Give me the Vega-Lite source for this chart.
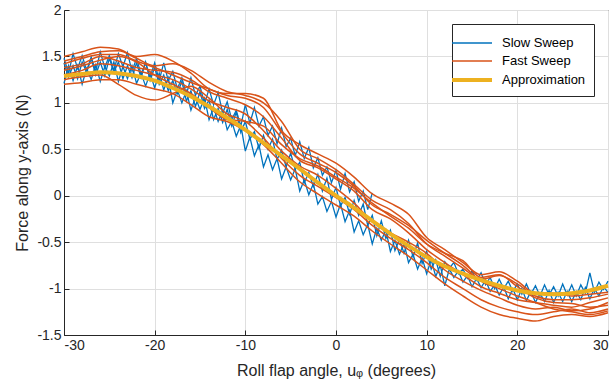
{
"$schema":"https://vega.github.io/schema/vega-lite/v6.json",
"width":544,"height":325,
"autosize":{"type":"none"},
"padding":{"left":64,"top":10,"right":6,"bottom":55},
"background":"white",
"config":{
"view":{"stroke":"#262626","strokeWidth":1},
"axis":{"labelFont":"Liberation Sans","titleFont":"Liberation Sans","labelFontSize":14,"titleFontSize":16,"titleFontWeight":"normal","labelColor":"#262626","titleColor":"#262626","domainColor":"#262626","tickColor":"#262626","gridColor":"#dfdfdf","gridWidth":1,"tickSize":-5,"labelPadding":8,"labelExpr":"replace(format(datum.value,''),'\u2212','-')"},
"legend":{"orient":"top-right","offset":14,"fillColor":"white","strokeColor":"#262626","padding":8,"symbolType":"M-2,0H2","symbolSize":400,"labelFont":"Liberation Sans","labelFontSize":13,"labelColor":"#000000","rowPadding":0,"labelOffset":18}
},
"datasets":{
"approx":[
{"g":"Approximation","x":-30,"y":1.29},{"g":"Approximation","x":-28,"y":1.31},{"g":"Approximation","x":-26,"y":1.33},{"g":"Approximation","x":-24,"y":1.32},{"g":"Approximation","x":-22,"y":1.29},{"g":"Approximation","x":-20,"y":1.24},{"g":"Approximation","x":-18,"y":1.16},{"g":"Approximation","x":-16,"y":1.07},{"g":"Approximation","x":-14,"y":0.96},{"g":"Approximation","x":-12,"y":0.84},{"g":"Approximation","x":-10,"y":0.71},{"g":"Approximation","x":-8,"y":0.57},{"g":"Approximation","x":-6,"y":0.43},{"g":"Approximation","x":-4,"y":0.29},{"g":"Approximation","x":-2,"y":0.14},{"g":"Approximation","x":0,"y":0.0},{"g":"Approximation","x":2,"y":-0.13},{"g":"Approximation","x":4,"y":-0.27},{"g":"Approximation","x":6,"y":-0.41},{"g":"Approximation","x":8,"y":-0.54},{"g":"Approximation","x":10,"y":-0.66},{"g":"Approximation","x":12,"y":-0.76},{"g":"Approximation","x":14,"y":-0.84},{"g":"Approximation","x":16,"y":-0.91},{"g":"Approximation","x":18,"y":-0.97},{"g":"Approximation","x":20,"y":-1.02},{"g":"Approximation","x":22,"y":-1.05},{"g":"Approximation","x":24,"y":-1.06},{"g":"Approximation","x":26,"y":-1.05},{"g":"Approximation","x":28,"y":-1.02},{"g":"Approximation","x":30,"y":-0.97}
],
"slow":[
{"g":"Slow Sweep","t":1,"x":-30,"y":1.43},{"g":"Slow Sweep","t":1,"x":-29.5,"y":1.28},{"g":"Slow Sweep","t":1,"x":-29,"y":1.40},{"g":"Slow Sweep","t":1,"x":-28.5,"y":1.26},{"g":"Slow Sweep","t":1,"x":-28,"y":1.44},{"g":"Slow Sweep","t":1,"x":-27.5,"y":1.33},{"g":"Slow Sweep","t":1,"x":-27,"y":1.48},{"g":"Slow Sweep","t":1,"x":-26.5,"y":1.30},{"g":"Slow Sweep","t":1,"x":-26,"y":1.44},{"g":"Slow Sweep","t":1,"x":-25.5,"y":1.29},{"g":"Slow Sweep","t":1,"x":-25,"y":1.48},{"g":"Slow Sweep","t":1,"x":-24.5,"y":1.33},{"g":"Slow Sweep","t":1,"x":-24,"y":1.44},{"g":"Slow Sweep","t":1,"x":-23.5,"y":1.26},{"g":"Slow Sweep","t":1,"x":-23,"y":1.40},{"g":"Slow Sweep","t":1,"x":-22.5,"y":1.27},{"g":"Slow Sweep","t":1,"x":-22,"y":1.43},{"g":"Slow Sweep","t":1,"x":-21.5,"y":1.27},{"g":"Slow Sweep","t":1,"x":-21,"y":1.44},{"g":"Slow Sweep","t":1,"x":-20.5,"y":1.24},{"g":"Slow Sweep","t":1,"x":-20,"y":1.38},{"g":"Slow Sweep","t":1,"x":-19.5,"y":1.20},{"g":"Slow Sweep","t":1,"x":-19,"y":1.30},{"g":"Slow Sweep","t":1,"x":-18.5,"y":1.13},{"g":"Slow Sweep","t":1,"x":-18,"y":1.24},{"g":"Slow Sweep","t":1,"x":-17.5,"y":1.10},{"g":"Slow Sweep","t":1,"x":-17,"y":1.23},{"g":"Slow Sweep","t":1,"x":-16.5,"y":1.02},{"g":"Slow Sweep","t":1,"x":-16,"y":1.13},{"g":"Slow Sweep","t":1,"x":-15.5,"y":0.96},{"g":"Slow Sweep","t":1,"x":-15,"y":1.12},{"g":"Slow Sweep","t":1,"x":-14.5,"y":0.94},{"g":"Slow Sweep","t":1,"x":-14,"y":1.03},{"g":"Slow Sweep","t":1,"x":-13.5,"y":0.82},{"g":"Slow Sweep","t":1,"x":-13,"y":0.94},{"g":"Slow Sweep","t":1,"x":-12.5,"y":0.79},{"g":"Slow Sweep","t":1,"x":-12,"y":0.93},{"g":"Slow Sweep","t":1,"x":-11.5,"y":0.75},{"g":"Slow Sweep","t":1,"x":-11,"y":0.90},{"g":"Slow Sweep","t":1,"x":-10.5,"y":0.68},{"g":"Slow Sweep","t":1,"x":-10,"y":0.80},{"g":"Slow Sweep","t":1,"x":-9.5,"y":0.61},{"g":"Slow Sweep","t":1,"x":-9,"y":0.69},{"g":"Slow Sweep","t":1,"x":-8.5,"y":0.51},{"g":"Slow Sweep","t":1,"x":-8,"y":0.65},{"g":"Slow Sweep","t":1,"x":-7.5,"y":0.50},{"g":"Slow Sweep","t":1,"x":-7,"y":0.61},{"g":"Slow Sweep","t":1,"x":-6.5,"y":0.39},{"g":"Slow Sweep","t":1,"x":-6,"y":0.49},{"g":"Slow Sweep","t":1,"x":-5.5,"y":0.31},{"g":"Slow Sweep","t":1,"x":-5,"y":0.46},{"g":"Slow Sweep","t":1,"x":-4.5,"y":0.28},{"g":"Slow Sweep","t":1,"x":-4,"y":0.36},{"g":"Slow Sweep","t":1,"x":-3.5,"y":0.14},{"g":"Slow Sweep","t":1,"x":-3,"y":0.25},{"g":"Slow Sweep","t":1,"x":-2.5,"y":0.10},{"g":"Slow Sweep","t":1,"x":-2,"y":0.23},{"g":"Slow Sweep","t":1,"x":-1.5,"y":0.05},{"g":"Slow Sweep","t":1,"x":-1,"y":0.19},{"g":"Slow Sweep","t":1,"x":-0.5,"y":-0.04},{"g":"Slow Sweep","t":1,"x":0,"y":0.09},{"g":"Slow Sweep","t":1,"x":0.5,"y":-0.11},{"g":"Slow Sweep","t":1,"x":1,"y":-0.02},{"g":"Slow Sweep","t":1,"x":1.5,"y":-0.20},{"g":"Slow Sweep","t":1,"x":2,"y":-0.05},{"g":"Slow Sweep","t":1,"x":2.5,"y":-0.21},{"g":"Slow Sweep","t":1,"x":3,"y":-0.09},{"g":"Slow Sweep","t":1,"x":3.5,"y":-0.32},{"g":"Slow Sweep","t":1,"x":4,"y":-0.21},{"g":"Slow Sweep","t":1,"x":4.5,"y":-0.43},{"g":"Slow Sweep","t":1,"x":5,"y":-0.27},{"g":"Slow Sweep","t":1,"x":5.5,"y":-0.46},{"g":"Slow Sweep","t":1,"x":6,"y":-0.37},{"g":"Slow Sweep","t":1,"x":6.5,"y":-0.59},{"g":"Slow Sweep","t":1,"x":7,"y":-0.47},{"g":"Slow Sweep","t":1,"x":7.5,"y":-0.62},{"g":"Slow Sweep","t":1,"x":8,"y":-0.48},{"g":"Slow Sweep","t":1,"x":8.5,"y":-0.66},{"g":"Slow Sweep","t":1,"x":9,"y":-0.51},{"g":"Slow Sweep","t":1,"x":9.5,"y":-0.73},{"g":"Slow Sweep","t":1,"x":10,"y":-0.60},{"g":"Slow Sweep","t":1,"x":10.5,"y":-0.79},{"g":"Slow Sweep","t":1,"x":11,"y":-0.69},{"g":"Slow Sweep","t":1,"x":11.5,"y":-0.87},{"g":"Slow Sweep","t":1,"x":12,"y":-0.71},{"g":"Slow Sweep","t":1,"x":12.5,"y":-0.78},{"g":"Slow Sweep","t":1,"x":13,"y":-0.72},{"g":"Slow Sweep","t":1,"x":13.5,"y":-0.84},{"g":"Slow Sweep","t":1,"x":14,"y":-0.79},{"g":"Slow Sweep","t":1,"x":14.5,"y":-0.89},{"g":"Slow Sweep","t":1,"x":15,"y":-0.81},{"g":"Slow Sweep","t":1,"x":15.5,"y":-0.91},{"g":"Slow Sweep","t":1,"x":16,"y":-0.83},{"g":"Slow Sweep","t":1,"x":16.5,"y":-0.96},{"g":"Slow Sweep","t":1,"x":17,"y":-0.88},{"g":"Slow Sweep","t":1,"x":17.5,"y":-1.00},{"g":"Slow Sweep","t":1,"x":18,"y":-0.90},{"g":"Slow Sweep","t":1,"x":18.5,"y":-1.00},{"g":"Slow Sweep","t":1,"x":19,"y":-0.92},{"g":"Slow Sweep","t":1,"x":19.5,"y":-1.03},{"g":"Slow Sweep","t":1,"x":20,"y":-0.95},{"g":"Slow Sweep","t":1,"x":20.5,"y":-1.06},{"g":"Slow Sweep","t":1,"x":21,"y":-0.95},{"g":"Slow Sweep","t":1,"x":21.5,"y":-1.06},{"g":"Slow Sweep","t":1,"x":22,"y":-0.97},{"g":"Slow Sweep","t":1,"x":22.5,"y":-1.08},{"g":"Slow Sweep","t":1,"x":23,"y":-0.96},{"g":"Slow Sweep","t":1,"x":23.5,"y":-1.07},{"g":"Slow Sweep","t":1,"x":24,"y":-0.98},{"g":"Slow Sweep","t":1,"x":24.5,"y":-1.08},{"g":"Slow Sweep","t":1,"x":25,"y":-0.95},{"g":"Slow Sweep","t":1,"x":25.5,"y":-1.07},{"g":"Slow Sweep","t":1,"x":26,"y":-0.96},{"g":"Slow Sweep","t":1,"x":26.5,"y":-1.08},{"g":"Slow Sweep","t":1,"x":27,"y":-0.96},{"g":"Slow Sweep","t":1,"x":27.5,"y":-1.05},{"g":"Slow Sweep","t":1,"x":28,"y":-0.83},{"g":"Slow Sweep","t":1,"x":28.5,"y":-1.04},{"g":"Slow Sweep","t":1,"x":29,"y":-0.93},{"g":"Slow Sweep","t":1,"x":29.5,"y":-1.01},{"g":"Slow Sweep","t":1,"x":30,"y":-0.92},
{"g":"Slow Sweep","t":2,"x":-30,"y":1.21},{"g":"Slow Sweep","t":2,"x":-29.5,"y":1.40},{"g":"Slow Sweep","t":2,"x":-29,"y":1.24},{"g":"Slow Sweep","t":2,"x":-28.5,"y":1.40},{"g":"Slow Sweep","t":2,"x":-28,"y":1.20},{"g":"Slow Sweep","t":2,"x":-27.5,"y":1.37},{"g":"Slow Sweep","t":2,"x":-27,"y":1.25},{"g":"Slow Sweep","t":2,"x":-26.5,"y":1.41},{"g":"Slow Sweep","t":2,"x":-26,"y":1.23},{"g":"Slow Sweep","t":2,"x":-25.5,"y":1.39},{"g":"Slow Sweep","t":2,"x":-25,"y":1.29},{"g":"Slow Sweep","t":2,"x":-24.5,"y":1.44},{"g":"Slow Sweep","t":2,"x":-24,"y":1.23},{"g":"Slow Sweep","t":2,"x":-23.5,"y":1.39},{"g":"Slow Sweep","t":2,"x":-23,"y":1.26},{"g":"Slow Sweep","t":2,"x":-22.5,"y":1.40},{"g":"Slow Sweep","t":2,"x":-22,"y":1.21},{"g":"Slow Sweep","t":2,"x":-21.5,"y":1.32},{"g":"Slow Sweep","t":2,"x":-21,"y":1.18},{"g":"Slow Sweep","t":2,"x":-20.5,"y":1.32},{"g":"Slow Sweep","t":2,"x":-20,"y":1.16},{"g":"Slow Sweep","t":2,"x":-19.5,"y":1.32},{"g":"Slow Sweep","t":2,"x":-19,"y":1.14},{"g":"Slow Sweep","t":2,"x":-18.5,"y":1.27},{"g":"Slow Sweep","t":2,"x":-18,"y":1.00},{"g":"Slow Sweep","t":2,"x":-17.5,"y":1.14},{"g":"Slow Sweep","t":2,"x":-17,"y":1.00},{"g":"Slow Sweep","t":2,"x":-16.5,"y":1.13},{"g":"Slow Sweep","t":2,"x":-16,"y":0.92},{"g":"Slow Sweep","t":2,"x":-15.5,"y":1.06},{"g":"Slow Sweep","t":2,"x":-15,"y":0.93},{"g":"Slow Sweep","t":2,"x":-14.5,"y":1.05},{"g":"Slow Sweep","t":2,"x":-14,"y":0.82},{"g":"Slow Sweep","t":2,"x":-13.5,"y":0.95},{"g":"Slow Sweep","t":2,"x":-13,"y":0.80},{"g":"Slow Sweep","t":2,"x":-12.5,"y":0.92},{"g":"Slow Sweep","t":2,"x":-12,"y":0.71},{"g":"Slow Sweep","t":2,"x":-11.5,"y":0.80},{"g":"Slow Sweep","t":2,"x":-11,"y":0.64},{"g":"Slow Sweep","t":2,"x":-10.5,"y":0.76},{"g":"Slow Sweep","t":2,"x":-10,"y":0.48},{"g":"Slow Sweep","t":2,"x":-9.5,"y":0.63},{"g":"Slow Sweep","t":2,"x":-9,"y":0.43},{"g":"Slow Sweep","t":2,"x":-8.5,"y":0.55},{"g":"Slow Sweep","t":2,"x":-8,"y":0.31},{"g":"Slow Sweep","t":2,"x":-7.5,"y":0.44},{"g":"Slow Sweep","t":2,"x":-7,"y":0.28},{"g":"Slow Sweep","t":2,"x":-6.5,"y":0.40},{"g":"Slow Sweep","t":2,"x":-6,"y":0.18},{"g":"Slow Sweep","t":2,"x":-5.5,"y":0.31},{"g":"Slow Sweep","t":2,"x":-5,"y":0.17},{"g":"Slow Sweep","t":2,"x":-4.5,"y":0.29},{"g":"Slow Sweep","t":2,"x":-4,"y":0.05},{"g":"Slow Sweep","t":2,"x":-3.5,"y":0.17},{"g":"Slow Sweep","t":2,"x":-3,"y":0.01},{"g":"Slow Sweep","t":2,"x":-2.5,"y":0.13},{"g":"Slow Sweep","t":2,"x":-2,"y":-0.09},{"g":"Slow Sweep","t":2,"x":-1.5,"y":-0.01},{"g":"Slow Sweep","t":2,"x":-1,"y":-0.17},{"g":"Slow Sweep","t":2,"x":-0.5,"y":-0.06},{"g":"Slow Sweep","t":2,"x":0,"y":-0.23},{"g":"Slow Sweep","t":2,"x":0.5,"y":-0.09},{"g":"Slow Sweep","t":2,"x":1,"y":-0.28},{"g":"Slow Sweep","t":2,"x":1.5,"y":-0.16},{"g":"Slow Sweep","t":2,"x":2,"y":-0.39},{"g":"Slow Sweep","t":2,"x":2.5,"y":-0.27},{"g":"Slow Sweep","t":2,"x":3,"y":-0.42},{"g":"Slow Sweep","t":2,"x":3.5,"y":-0.31},{"g":"Slow Sweep","t":2,"x":4,"y":-0.52},{"g":"Slow Sweep","t":2,"x":4.5,"y":-0.35},{"g":"Slow Sweep","t":2,"x":5,"y":-0.48},{"g":"Slow Sweep","t":2,"x":5.5,"y":-0.37},{"g":"Slow Sweep","t":2,"x":6,"y":-0.60},{"g":"Slow Sweep","t":2,"x":6.5,"y":-0.48},{"g":"Slow Sweep","t":2,"x":7,"y":-0.63},{"g":"Slow Sweep","t":2,"x":7.5,"y":-0.51},{"g":"Slow Sweep","t":2,"x":8,"y":-0.72},{"g":"Slow Sweep","t":2,"x":8.5,"y":-0.63},{"g":"Slow Sweep","t":2,"x":9,"y":-0.79},{"g":"Slow Sweep","t":2,"x":9.5,"y":-0.67},{"g":"Slow Sweep","t":2,"x":10,"y":-0.84},{"g":"Slow Sweep","t":2,"x":10.5,"y":-0.69},{"g":"Slow Sweep","t":2,"x":11,"y":-0.87},{"g":"Slow Sweep","t":2,"x":11.5,"y":-0.75},{"g":"Slow Sweep","t":2,"x":12,"y":-0.97},{"g":"Slow Sweep","t":2,"x":12.5,"y":-0.79},{"g":"Slow Sweep","t":2,"x":13,"y":-0.88},{"g":"Slow Sweep","t":2,"x":13.5,"y":-0.81},{"g":"Slow Sweep","t":2,"x":14,"y":-0.93},{"g":"Slow Sweep","t":2,"x":14.5,"y":-0.86},{"g":"Slow Sweep","t":2,"x":15,"y":-0.98},{"g":"Slow Sweep","t":2,"x":15.5,"y":-0.89},{"g":"Slow Sweep","t":2,"x":16,"y":-0.99},{"g":"Slow Sweep","t":2,"x":16.5,"y":-0.91},{"g":"Slow Sweep","t":2,"x":17,"y":-1.03},{"g":"Slow Sweep","t":2,"x":17.5,"y":-0.96},{"g":"Slow Sweep","t":2,"x":18,"y":-1.07},{"g":"Slow Sweep","t":2,"x":18.5,"y":-0.98},{"g":"Slow Sweep","t":2,"x":19,"y":-1.11},{"g":"Slow Sweep","t":2,"x":19.5,"y":-1.00},{"g":"Slow Sweep","t":2,"x":20,"y":-1.12},{"g":"Slow Sweep","t":2,"x":20.5,"y":-1.00},{"g":"Slow Sweep","t":2,"x":21,"y":-1.13},{"g":"Slow Sweep","t":2,"x":21.5,"y":-1.03},{"g":"Slow Sweep","t":2,"x":22,"y":-1.15},{"g":"Slow Sweep","t":2,"x":22.5,"y":-1.05},{"g":"Slow Sweep","t":2,"x":23,"y":-1.14},{"g":"Slow Sweep","t":2,"x":23.5,"y":-1.02},{"g":"Slow Sweep","t":2,"x":24,"y":-1.15},{"g":"Slow Sweep","t":2,"x":24.5,"y":-1.04},{"g":"Slow Sweep","t":2,"x":25,"y":-1.14},{"g":"Slow Sweep","t":2,"x":25.5,"y":-1.03},{"g":"Slow Sweep","t":2,"x":26,"y":-1.14},{"g":"Slow Sweep","t":2,"x":26.5,"y":-1.03},{"g":"Slow Sweep","t":2,"x":27,"y":-1.12},{"g":"Slow Sweep","t":2,"x":27.5,"y":-0.99},{"g":"Slow Sweep","t":2,"x":28,"y":-1.11},{"g":"Slow Sweep","t":2,"x":28.5,"y":-1.00},{"g":"Slow Sweep","t":2,"x":29,"y":-1.08},{"g":"Slow Sweep","t":2,"x":29.5,"y":-0.98},{"g":"Slow Sweep","t":2,"x":30,"y":-1.04},
{"g":"Slow Sweep","t":3,"x":-30,"y":1.48},{"g":"Slow Sweep","t":3,"x":-29.5,"y":1.32},{"g":"Slow Sweep","t":3,"x":-29,"y":1.53},{"g":"Slow Sweep","t":3,"x":-28.5,"y":1.37},{"g":"Slow Sweep","t":3,"x":-28,"y":1.51},{"g":"Slow Sweep","t":3,"x":-27.5,"y":1.35},{"g":"Slow Sweep","t":3,"x":-27,"y":1.49},{"g":"Slow Sweep","t":3,"x":-26.5,"y":1.34},{"g":"Slow Sweep","t":3,"x":-26,"y":1.55},{"g":"Slow Sweep","t":3,"x":-25.5,"y":1.38},{"g":"Slow Sweep","t":3,"x":-25,"y":1.51},{"g":"Slow Sweep","t":3,"x":-24.5,"y":1.35},{"g":"Slow Sweep","t":3,"x":-24,"y":1.53},{"g":"Slow Sweep","t":3,"x":-23.5,"y":1.39},{"g":"Slow Sweep","t":3,"x":-23,"y":1.54},{"g":"Slow Sweep","t":3,"x":-22.5,"y":1.34},{"g":"Slow Sweep","t":3,"x":-22,"y":1.48},{"g":"Slow Sweep","t":3,"x":-21.5,"y":1.31},{"g":"Slow Sweep","t":3,"x":-21,"y":1.43},{"g":"Slow Sweep","t":3,"x":-20.5,"y":1.28},{"g":"Slow Sweep","t":3,"x":-20,"y":1.43},{"g":"Slow Sweep","t":3,"x":-19.5,"y":1.24},{"g":"Slow Sweep","t":3,"x":-19,"y":1.43},{"g":"Slow Sweep","t":3,"x":-18.5,"y":1.24},{"g":"Slow Sweep","t":3,"x":-18,"y":1.34},{"g":"Slow Sweep","t":3,"x":-17.5,"y":1.15},{"g":"Slow Sweep","t":3,"x":-17,"y":1.27},{"g":"Slow Sweep","t":3,"x":-16.5,"y":1.09},{"g":"Slow Sweep","t":3,"x":-16,"y":1.27},{"g":"Slow Sweep","t":3,"x":-15.5,"y":1.08},{"g":"Slow Sweep","t":3,"x":-15,"y":1.18},{"g":"Slow Sweep","t":3,"x":-14.5,"y":0.99},{"g":"Slow Sweep","t":3,"x":-14,"y":1.15},{"g":"Slow Sweep","t":3,"x":-13.5,"y":0.98},{"g":"Slow Sweep","t":3,"x":-13,"y":1.11},{"g":"Slow Sweep","t":3,"x":-12.5,"y":0.89},{"g":"Slow Sweep","t":3,"x":-12,"y":1.01},{"g":"Slow Sweep","t":3,"x":-11.5,"y":0.82},{"g":"Slow Sweep","t":3,"x":-11,"y":0.92},{"g":"Slow Sweep","t":3,"x":-10.5,"y":0.75},{"g":"Slow Sweep","t":3,"x":-10,"y":0.98},{"g":"Slow Sweep","t":3,"x":-9.5,"y":0.78},{"g":"Slow Sweep","t":3,"x":-9,"y":0.95},{"g":"Slow Sweep","t":3,"x":-8.5,"y":0.75},{"g":"Slow Sweep","t":3,"x":-8,"y":0.85},{"g":"Slow Sweep","t":3,"x":-7.5,"y":0.65},{"g":"Slow Sweep","t":3,"x":-7,"y":0.75},{"g":"Slow Sweep","t":3,"x":-6.5,"y":0.56},{"g":"Slow Sweep","t":3,"x":-6,"y":0.73},{"g":"Slow Sweep","t":3,"x":-5.5,"y":0.53},{"g":"Slow Sweep","t":3,"x":-5,"y":0.62},{"g":"Slow Sweep","t":3,"x":-4.5,"y":0.43},{"g":"Slow Sweep","t":3,"x":-4,"y":0.58},{"g":"Slow Sweep","t":3,"x":-3.5,"y":0.40},{"g":"Slow Sweep","t":3,"x":-3,"y":0.52},{"g":"Slow Sweep","t":3,"x":-2.5,"y":0.30},{"g":"Slow Sweep","t":3,"x":-2,"y":0.41},{"g":"Slow Sweep","t":3,"x":-1.5,"y":0.22},{"g":"Slow Sweep","t":3,"x":-1,"y":0.31},{"g":"Slow Sweep","t":3,"x":-0.5,"y":0.14},{"g":"Slow Sweep","t":3,"x":0,"y":0.27},{"g":"Slow Sweep","t":3,"x":0.5,"y":0.07},{"g":"Slow Sweep","t":3,"x":1,"y":0.24},{"g":"Slow Sweep","t":3,"x":1.5,"y":0.04},{"g":"Slow Sweep","t":3,"x":2,"y":0.15},{"g":"Slow Sweep","t":3,"x":2.5,"y":-0.06},{"g":"Slow Sweep","t":3,"x":3,"y":0.05},{"g":"Slow Sweep","t":3,"x":3.5,"y":-0.15},{"g":"Slow Sweep","t":3,"x":4,"y":0.03}
],
"fast":[
{"g":"Fast Sweep","t":1,"x":-30,"y":1.50},{"g":"Fast Sweep","t":1,"x":-28,"y":1.55},{"g":"Fast Sweep","t":1,"x":-26,"y":1.60},{"g":"Fast Sweep","t":1,"x":-24,"y":1.58},{"g":"Fast Sweep","t":1,"x":-22,"y":1.50},{"g":"Fast Sweep","t":1,"x":-20,"y":1.52},{"g":"Fast Sweep","t":1,"x":-18,"y":1.45},{"g":"Fast Sweep","t":1,"x":-16,"y":1.32},{"g":"Fast Sweep","t":1,"x":-14,"y":1.15},{"g":"Fast Sweep","t":1,"x":-12,"y":1.10},{"g":"Fast Sweep","t":1,"x":-10,"y":1.10},{"g":"Fast Sweep","t":1,"x":-8,"y":1.05},{"g":"Fast Sweep","t":1,"x":-6,"y":0.70},{"g":"Fast Sweep","t":1,"x":-4,"y":0.55},{"g":"Fast Sweep","t":1,"x":-2,"y":0.45},{"g":"Fast Sweep","t":1,"x":0,"y":0.35},{"g":"Fast Sweep","t":1,"x":2,"y":0.20},{"g":"Fast Sweep","t":1,"x":4,"y":0.02},{"g":"Fast Sweep","t":1,"x":6,"y":-0.08},{"g":"Fast Sweep","t":1,"x":8,"y":-0.20},{"g":"Fast Sweep","t":1,"x":10,"y":-0.45},{"g":"Fast Sweep","t":1,"x":12,"y":-0.58},{"g":"Fast Sweep","t":1,"x":14,"y":-0.72},{"g":"Fast Sweep","t":1,"x":16,"y":-0.85},{"g":"Fast Sweep","t":1,"x":18,"y":-0.82},{"g":"Fast Sweep","t":1,"x":20,"y":-0.92},{"g":"Fast Sweep","t":1,"x":22,"y":-1.05},{"g":"Fast Sweep","t":1,"x":24,"y":-1.05},{"g":"Fast Sweep","t":1,"x":26,"y":-1.08},{"g":"Fast Sweep","t":1,"x":28,"y":-1.06},{"g":"Fast Sweep","t":1,"x":30,"y":-1.04},
{"g":"Fast Sweep","t":2,"x":-30,"y":1.45},{"g":"Fast Sweep","t":2,"x":-28,"y":1.50},{"g":"Fast Sweep","t":2,"x":-26,"y":1.55},{"g":"Fast Sweep","t":2,"x":-24,"y":1.56},{"g":"Fast Sweep","t":2,"x":-22,"y":1.48},{"g":"Fast Sweep","t":2,"x":-20,"y":1.40},{"g":"Fast Sweep","t":2,"x":-18,"y":1.42},{"g":"Fast Sweep","t":2,"x":-16,"y":1.35},{"g":"Fast Sweep","t":2,"x":-14,"y":1.22},{"g":"Fast Sweep","t":2,"x":-12,"y":1.12},{"g":"Fast Sweep","t":2,"x":-10,"y":1.08},{"g":"Fast Sweep","t":2,"x":-8,"y":1.00},{"g":"Fast Sweep","t":2,"x":-6,"y":0.80},{"g":"Fast Sweep","t":2,"x":-4,"y":0.50},{"g":"Fast Sweep","t":2,"x":-2,"y":0.40},{"g":"Fast Sweep","t":2,"x":0,"y":0.28},{"g":"Fast Sweep","t":2,"x":2,"y":0.12},{"g":"Fast Sweep","t":2,"x":4,"y":-0.05},{"g":"Fast Sweep","t":2,"x":6,"y":-0.15},{"g":"Fast Sweep","t":2,"x":8,"y":-0.30},{"g":"Fast Sweep","t":2,"x":10,"y":-0.52},{"g":"Fast Sweep","t":2,"x":12,"y":-0.65},{"g":"Fast Sweep","t":2,"x":14,"y":-0.78},{"g":"Fast Sweep","t":2,"x":16,"y":-0.90},{"g":"Fast Sweep","t":2,"x":18,"y":-0.86},{"g":"Fast Sweep","t":2,"x":20,"y":-0.95},{"g":"Fast Sweep","t":2,"x":22,"y":-1.08},{"g":"Fast Sweep","t":2,"x":24,"y":-1.12},{"g":"Fast Sweep","t":2,"x":26,"y":-1.12},{"g":"Fast Sweep","t":2,"x":28,"y":-1.10},{"g":"Fast Sweep","t":2,"x":30,"y":-1.06},
{"g":"Fast Sweep","t":3,"x":-30,"y":1.38},{"g":"Fast Sweep","t":3,"x":-28,"y":1.42},{"g":"Fast Sweep","t":3,"x":-26,"y":1.50},{"g":"Fast Sweep","t":3,"x":-24,"y":1.45},{"g":"Fast Sweep","t":3,"x":-22,"y":1.38},{"g":"Fast Sweep","t":3,"x":-20,"y":1.35},{"g":"Fast Sweep","t":3,"x":-18,"y":1.33},{"g":"Fast Sweep","t":3,"x":-16,"y":1.25},{"g":"Fast Sweep","t":3,"x":-14,"y":1.12},{"g":"Fast Sweep","t":3,"x":-12,"y":1.05},{"g":"Fast Sweep","t":3,"x":-10,"y":0.98},{"g":"Fast Sweep","t":3,"x":-8,"y":0.85},{"g":"Fast Sweep","t":3,"x":-6,"y":0.62},{"g":"Fast Sweep","t":3,"x":-4,"y":0.38},{"g":"Fast Sweep","t":3,"x":-2,"y":0.30},{"g":"Fast Sweep","t":3,"x":0,"y":0.18},{"g":"Fast Sweep","t":3,"x":2,"y":0.05},{"g":"Fast Sweep","t":3,"x":4,"y":-0.15},{"g":"Fast Sweep","t":3,"x":6,"y":-0.25},{"g":"Fast Sweep","t":3,"x":8,"y":-0.40},{"g":"Fast Sweep","t":3,"x":10,"y":-0.58},{"g":"Fast Sweep","t":3,"x":12,"y":-0.72},{"g":"Fast Sweep","t":3,"x":14,"y":-0.85},{"g":"Fast Sweep","t":3,"x":16,"y":-0.98},{"g":"Fast Sweep","t":3,"x":18,"y":-1.05},{"g":"Fast Sweep","t":3,"x":20,"y":-1.12},{"g":"Fast Sweep","t":3,"x":22,"y":-1.15},{"g":"Fast Sweep","t":3,"x":24,"y":-1.18},{"g":"Fast Sweep","t":3,"x":26,"y":-1.20},{"g":"Fast Sweep","t":3,"x":28,"y":-1.15},{"g":"Fast Sweep","t":3,"x":30,"y":-1.10},
{"g":"Fast Sweep","t":4,"x":-30,"y":1.30},{"g":"Fast Sweep","t":4,"x":-28,"y":1.35},{"g":"Fast Sweep","t":4,"x":-26,"y":1.42},{"g":"Fast Sweep","t":4,"x":-24,"y":1.40},{"g":"Fast Sweep","t":4,"x":-22,"y":1.35},{"g":"Fast Sweep","t":4,"x":-20,"y":1.30},{"g":"Fast Sweep","t":4,"x":-18,"y":1.25},{"g":"Fast Sweep","t":4,"x":-16,"y":1.15},{"g":"Fast Sweep","t":4,"x":-14,"y":1.02},{"g":"Fast Sweep","t":4,"x":-12,"y":0.95},{"g":"Fast Sweep","t":4,"x":-10,"y":0.88},{"g":"Fast Sweep","t":4,"x":-8,"y":0.70},{"g":"Fast Sweep","t":4,"x":-6,"y":0.48},{"g":"Fast Sweep","t":4,"x":-4,"y":0.32},{"g":"Fast Sweep","t":4,"x":-2,"y":0.22},{"g":"Fast Sweep","t":4,"x":0,"y":0.08},{"g":"Fast Sweep","t":4,"x":2,"y":-0.08},{"g":"Fast Sweep","t":4,"x":4,"y":-0.28},{"g":"Fast Sweep","t":4,"x":6,"y":-0.40},{"g":"Fast Sweep","t":4,"x":8,"y":-0.50},{"g":"Fast Sweep","t":4,"x":10,"y":-0.62},{"g":"Fast Sweep","t":4,"x":12,"y":-0.80},{"g":"Fast Sweep","t":4,"x":14,"y":-0.92},{"g":"Fast Sweep","t":4,"x":16,"y":-1.02},{"g":"Fast Sweep","t":4,"x":18,"y":-1.10},{"g":"Fast Sweep","t":4,"x":20,"y":-1.18},{"g":"Fast Sweep","t":4,"x":22,"y":-1.22},{"g":"Fast Sweep","t":4,"x":24,"y":-1.20},{"g":"Fast Sweep","t":4,"x":26,"y":-1.24},{"g":"Fast Sweep","t":4,"x":28,"y":-1.22},{"g":"Fast Sweep","t":4,"x":30,"y":-1.15},
{"g":"Fast Sweep","t":5,"x":-30,"y":1.25},{"g":"Fast Sweep","t":5,"x":-28,"y":1.28},{"g":"Fast Sweep","t":5,"x":-26,"y":1.30},{"g":"Fast Sweep","t":5,"x":-24,"y":1.20},{"g":"Fast Sweep","t":5,"x":-22,"y":1.08},{"g":"Fast Sweep","t":5,"x":-20,"y":1.03},{"g":"Fast Sweep","t":5,"x":-18,"y":1.10},{"g":"Fast Sweep","t":5,"x":-16,"y":1.18},{"g":"Fast Sweep","t":5,"x":-14,"y":1.05},{"g":"Fast Sweep","t":5,"x":-12,"y":0.88},{"g":"Fast Sweep","t":5,"x":-10,"y":0.80},{"g":"Fast Sweep","t":5,"x":-8,"y":0.62},{"g":"Fast Sweep","t":5,"x":-6,"y":0.40},{"g":"Fast Sweep","t":5,"x":-4,"y":0.22},{"g":"Fast Sweep","t":5,"x":-2,"y":0.10},{"g":"Fast Sweep","t":5,"x":0,"y":-0.02},{"g":"Fast Sweep","t":5,"x":2,"y":-0.15},{"g":"Fast Sweep","t":5,"x":4,"y":-0.32},{"g":"Fast Sweep","t":5,"x":6,"y":-0.46},{"g":"Fast Sweep","t":5,"x":8,"y":-0.58},{"g":"Fast Sweep","t":5,"x":10,"y":-0.72},{"g":"Fast Sweep","t":5,"x":12,"y":-0.88},{"g":"Fast Sweep","t":5,"x":14,"y":-1.00},{"g":"Fast Sweep","t":5,"x":16,"y":-1.12},{"g":"Fast Sweep","t":5,"x":18,"y":-1.20},{"g":"Fast Sweep","t":5,"x":20,"y":-1.25},{"g":"Fast Sweep","t":5,"x":22,"y":-1.28},{"g":"Fast Sweep","t":5,"x":24,"y":-1.25},{"g":"Fast Sweep","t":5,"x":26,"y":-1.22},{"g":"Fast Sweep","t":5,"x":28,"y":-1.26},{"g":"Fast Sweep","t":5,"x":30,"y":-1.22},
{"g":"Fast Sweep","t":6,"x":-30,"y":1.20},{"g":"Fast Sweep","t":6,"x":-28,"y":1.22},{"g":"Fast Sweep","t":6,"x":-26,"y":1.25},{"g":"Fast Sweep","t":6,"x":-24,"y":1.25},{"g":"Fast Sweep","t":6,"x":-22,"y":1.20},{"g":"Fast Sweep","t":6,"x":-20,"y":1.15},{"g":"Fast Sweep","t":6,"x":-18,"y":1.10},{"g":"Fast Sweep","t":6,"x":-16,"y":0.98},{"g":"Fast Sweep","t":6,"x":-14,"y":0.85},{"g":"Fast Sweep","t":6,"x":-12,"y":0.80},{"g":"Fast Sweep","t":6,"x":-10,"y":0.70},{"g":"Fast Sweep","t":6,"x":-8,"y":0.55},{"g":"Fast Sweep","t":6,"x":-6,"y":0.35},{"g":"Fast Sweep","t":6,"x":-4,"y":0.15},{"g":"Fast Sweep","t":6,"x":-2,"y":0.02},{"g":"Fast Sweep","t":6,"x":0,"y":-0.10},{"g":"Fast Sweep","t":6,"x":2,"y":-0.22},{"g":"Fast Sweep","t":6,"x":4,"y":-0.38},{"g":"Fast Sweep","t":6,"x":6,"y":-0.52},{"g":"Fast Sweep","t":6,"x":8,"y":-0.65},{"g":"Fast Sweep","t":6,"x":10,"y":-0.80},{"g":"Fast Sweep","t":6,"x":12,"y":-0.95},{"g":"Fast Sweep","t":6,"x":14,"y":-1.08},{"g":"Fast Sweep","t":6,"x":16,"y":-1.20},{"g":"Fast Sweep","t":6,"x":18,"y":-1.28},{"g":"Fast Sweep","t":6,"x":20,"y":-1.32},{"g":"Fast Sweep","t":6,"x":22,"y":-1.35},{"g":"Fast Sweep","t":6,"x":24,"y":-1.30},{"g":"Fast Sweep","t":6,"x":26,"y":-1.28},{"g":"Fast Sweep","t":6,"x":28,"y":-1.30},{"g":"Fast Sweep","t":6,"x":30,"y":-1.26},
{"g":"Fast Sweep","t":7,"x":-30,"y":1.35},{"g":"Fast Sweep","t":7,"x":-28,"y":1.40},{"g":"Fast Sweep","t":7,"x":-26,"y":1.46},{"g":"Fast Sweep","t":7,"x":-24,"y":1.50},{"g":"Fast Sweep","t":7,"x":-22,"y":1.44},{"g":"Fast Sweep","t":7,"x":-20,"y":1.30},{"g":"Fast Sweep","t":7,"x":-18,"y":1.20},{"g":"Fast Sweep","t":7,"x":-16,"y":1.10},{"g":"Fast Sweep","t":7,"x":-14,"y":0.95},{"g":"Fast Sweep","t":7,"x":-12,"y":0.82},{"g":"Fast Sweep","t":7,"x":-10,"y":0.80},{"g":"Fast Sweep","t":7,"x":-8,"y":0.75},{"g":"Fast Sweep","t":7,"x":-6,"y":0.55},{"g":"Fast Sweep","t":7,"x":-4,"y":0.40},{"g":"Fast Sweep","t":7,"x":-2,"y":0.32},{"g":"Fast Sweep","t":7,"x":0,"y":0.20},{"g":"Fast Sweep","t":7,"x":2,"y":0.08},{"g":"Fast Sweep","t":7,"x":4,"y":-0.08},{"g":"Fast Sweep","t":7,"x":6,"y":-0.22},{"g":"Fast Sweep","t":7,"x":8,"y":-0.35},{"g":"Fast Sweep","t":7,"x":10,"y":-0.52},{"g":"Fast Sweep","t":7,"x":12,"y":-0.62},{"g":"Fast Sweep","t":7,"x":14,"y":-0.70},{"g":"Fast Sweep","t":7,"x":16,"y":-0.88},{"g":"Fast Sweep","t":7,"x":18,"y":-0.85},{"g":"Fast Sweep","t":7,"x":20,"y":-0.98},{"g":"Fast Sweep","t":7,"x":22,"y":-1.10},{"g":"Fast Sweep","t":7,"x":24,"y":-1.15},{"g":"Fast Sweep","t":7,"x":26,"y":-1.16},{"g":"Fast Sweep","t":7,"x":28,"y":-1.20},{"g":"Fast Sweep","t":7,"x":30,"y":-1.18},
{"g":"Fast Sweep","t":8,"x":-30,"y":1.42},{"g":"Fast Sweep","t":8,"x":-28,"y":1.48},{"g":"Fast Sweep","t":8,"x":-26,"y":1.52},{"g":"Fast Sweep","t":8,"x":-24,"y":1.52},{"g":"Fast Sweep","t":8,"x":-22,"y":1.45},{"g":"Fast Sweep","t":8,"x":-20,"y":1.38},{"g":"Fast Sweep","t":8,"x":-18,"y":1.30},{"g":"Fast Sweep","t":8,"x":-16,"y":1.22},{"g":"Fast Sweep","t":8,"x":-14,"y":1.15},{"g":"Fast Sweep","t":8,"x":-12,"y":1.08},{"g":"Fast Sweep","t":8,"x":-10,"y":1.05},{"g":"Fast Sweep","t":8,"x":-8,"y":0.95},{"g":"Fast Sweep","t":8,"x":-6,"y":0.68},{"g":"Fast Sweep","t":8,"x":-4,"y":0.45},{"g":"Fast Sweep","t":8,"x":-2,"y":0.35},{"g":"Fast Sweep","t":8,"x":0,"y":0.25},{"g":"Fast Sweep","t":8,"x":2,"y":0.10},{"g":"Fast Sweep","t":8,"x":4,"y":-0.10},{"g":"Fast Sweep","t":8,"x":6,"y":-0.20},{"g":"Fast Sweep","t":8,"x":8,"y":-0.32},{"g":"Fast Sweep","t":8,"x":10,"y":-0.48},{"g":"Fast Sweep","t":8,"x":12,"y":-0.62},{"g":"Fast Sweep","t":8,"x":14,"y":-0.75},{"g":"Fast Sweep","t":8,"x":16,"y":-0.92},{"g":"Fast Sweep","t":8,"x":18,"y":-1.00},{"g":"Fast Sweep","t":8,"x":20,"y":-1.08},{"g":"Fast Sweep","t":8,"x":22,"y":-1.15},{"g":"Fast Sweep","t":8,"x":24,"y":-1.22},{"g":"Fast Sweep","t":8,"x":26,"y":-1.25},{"g":"Fast Sweep","t":8,"x":28,"y":-1.28},{"g":"Fast Sweep","t":8,"x":30,"y":-1.24}
]
},
"encoding":{
"x":{"field":"x","type":"quantitative","scale":{"domain":[-30,30],"nice":false,"zero":false},"axis":{"values":[-30,-20,-10,0,10,20,30],"title":"Roll flap angle, uᵩ (degrees)","grid":true,"titlePadding":10}},
"y":{"field":"y","type":"quantitative","scale":{"domain":[-1.5,2],"nice":false,"zero":false},"axis":{"values":[-1.5,-1,-0.5,0,0.5,1,1.5,2],"title":"Force along y-axis (N)","grid":true,"titlePadding":6}},
"color":{"field":"g","type":"nominal","scale":{"domain":["Slow Sweep","Fast Sweep","Approximation"],"range":["#0072BD","#D95319","#EDB120"]},"legend":{"title":null}},
"strokeWidth":{"field":"g","type":"nominal","scale":{"type":"ordinal","domain":["Slow Sweep","Fast Sweep","Approximation"],"range":[1.3,1.5,4]},"legend":{"title":null}}
},
"layer":[
{"data":{"name":"slow"},"mark":{"type":"line","interpolate":"linear"},"encoding":{"detail":{"field":"t","type":"nominal"}}},
{"data":{"name":"fast"},"mark":{"type":"line","interpolate":"monotone"},"encoding":{"detail":{"field":"t","type":"nominal"}}},
{"data":{"name":"approx"},"mark":{"type":"line","interpolate":"monotone"}}
]
}
